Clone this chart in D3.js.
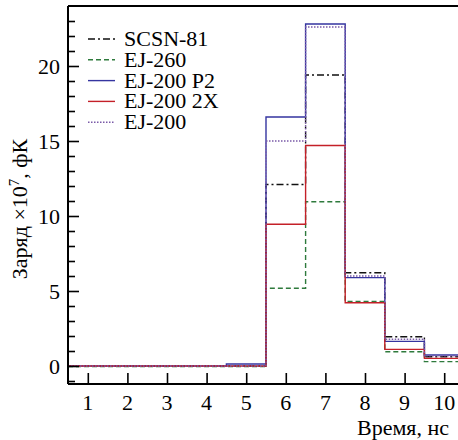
<!DOCTYPE html>
<html><head><meta charset="utf-8">
<script src="https://cdn.jsdelivr.net/npm/d3@7"></script>
<style>html,body{margin:0;padding:0;background:#fff;}svg{display:block;}</style>
</head><body>
<script>
const bins = [1,2,3,4,5,6,7,8,9,10];
const scsn81 = [0,0,0,0,0,12.1,19.4,6.22,1.95,0.62];
const ej260  = [-0.03,-0.03,-0.03,-0.03,-0.03,5.18,10.95,4.3,0.95,0.29];
const ej200p2 = [0,0,0,0,0.13,16.6,22.8,5.89,1.64,0.73];
const ej200x2 = [0,0,0,0,0,9.45,14.7,4.22,1.11,0.51];
const ej200  = [0,0,0,0,0,15.0,22.6,6.0,1.78,0.68];
const xTicks = [1,2,3,4,5,6,7,8,9,10];
const yTicks = [0,5,10,15,20];
const seriesNames = ["SCSN-81","EJ-260","EJ-200 P2","EJ-200 2X","EJ-200"];

const FONT="Liberation Serif, DejaVu Serif, serif";
const W=458,H=440;
const svg=d3.select("body").append("svg").attr("width",W).attr("height",H);
const x=d3.scaleLinear().domain([0.5,10.5]).range([68,464]);
const y=d3.scaleLinear().domain([-1.2,24]).range([384,6]);

function T(sel,size){return sel.style("font-family",FONT).style("font-size",size+"px").attr("font-family",FONT).attr("font-size",size);}

const styles=[
 {data:scsn81,color:"#111",dash:"7,3,2,3",w:1.4},
 {data:ej260,color:"#2e7a3c",dash:"5,3",w:1.4},
 {data:ej200p2,color:"#3535a0",dash:null,w:1.4},
 {data:ej200x2,color:"#c42028",dash:null,w:1.4},
 {data:ej200,color:"#7a5aa8",dash:"1.5,1.5",w:1.4}
];

function stepPath(vals){
  const p=d3.path();
  p.moveTo(x(bins[0]-0.5),y(vals[0]));
  vals.forEach((v,i)=>{
    if(i>0) p.lineTo(x(bins[i]-0.5),y(v));
    p.lineTo(x(bins[i]+0.5),y(v));
  });
  return p.toString();
}

const g=svg.append("g");
styles.forEach(s=>{
  g.append("path").attr("d",stepPath(s.data)).attr("fill","none")
   .attr("stroke",s.color).attr("stroke-width",s.w)
   .attr("stroke-dasharray",s.dash);
});

svg.append("line").attr("x1",x(0.5)).attr("x2",W).attr("y1",y(24)).attr("y2",y(24)).attr("stroke","#000").attr("stroke-width",2);
const ya=svg.append("g").attr("transform",`translate(${x(0.5)},0)`).call(d3.axisRight(y).tickValues(yTicks).tickSize(11).tickFormat(""));
const yMinor=d3.range(-1,24).filter(v=>v%5!==0);
const yam=svg.append("g").attr("transform",`translate(${x(0.5)},0)`).call(d3.axisRight(y).tickValues(yMinor).tickSize(7).tickFormat(""));
[ya,yam].forEach(a=>{a.select(".domain").remove();a.selectAll("line").attr("stroke","#000").attr("stroke-width",1.6);});
svg.append("line").attr("x1",x(0.5)).attr("x2",x(0.5)).attr("y1",y(24)).attr("y2",y(-1.2)).attr("stroke","#000").attr("stroke-width",2);
yTicks.forEach(v=>{
  T(svg.append("text"),22).attr("x",x(0.5)-8).attr("y",y(v)+8).attr("text-anchor","end").text(v);
});
const xa=svg.append("g").attr("transform",`translate(0,${y(-1.2)})`).call(d3.axisTop(x).tickValues(xTicks).tickSize(11).tickFormat(""));
xa.select(".domain").remove();
xa.selectAll("line").attr("stroke","#000").attr("stroke-width",1.6);
svg.append("line").attr("x1",x(0.5)).attr("x2",W).attr("y1",y(-1.2)).attr("y2",y(-1.2)).attr("stroke","#000").attr("stroke-width",2);
xTicks.forEach(v=>{
  T(svg.append("text"),22).attr("x",x(v)).attr("y",410).attr("text-anchor","middle").text(v);
});
T(svg.append("text"),22).attr("x",449).attr("y",435).attr("text-anchor","end").text("Время, нс");
const yl=T(svg.append("text"),22).attr("transform","translate(27,209) rotate(-90)").attr("text-anchor","middle");
yl.append("tspan").text("Заряд ×10");
T(yl.append("tspan"),15).attr("dy",-8).text("7");
yl.append("tspan").attr("dy",8).text(", фК");

const leg=svg.append("g");
seriesNames.forEach((n,i)=>{
  const yy=39+i*20.8;
  const s=styles[i];
  leg.append("line").attr("x1",88).attr("x2",115).attr("y1",yy).attr("y2",yy)
   .attr("stroke",s.color).attr("stroke-width",1.4).attr("stroke-dasharray",s.dash);
  T(leg.append("text"),22).attr("x",124).attr("y",yy+7).text(n);
});
</script>
</body></html>
